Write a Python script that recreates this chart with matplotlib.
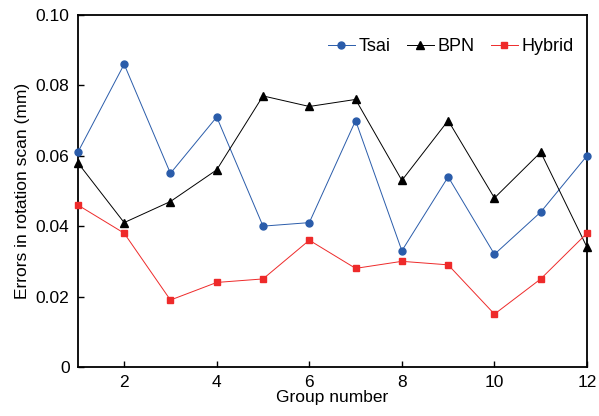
import numpy as np
import matplotlib.pyplot as plt

plt.rcParams['font.family'] = ['Liberation Sans', 'DejaVu Sans']

groups = np.arange(1, 13)
tsai = [0.061, 0.086, 0.055, 0.071, 0.040, 0.041, 0.070, 0.033, 0.054, 0.032, 0.044, 0.060]
bpn = [0.058, 0.041, 0.047, 0.056, 0.077, 0.074, 0.076, 0.053, 0.070, 0.048, 0.061, 0.034]
hybrid = [0.046, 0.038, 0.019, 0.024, 0.025, 0.036, 0.028, 0.030, 0.029, 0.015, 0.025, 0.038]

fig = plt.figure(figsize=(5.99, 4.16), dpi=100)
ax = fig.add_axes([0.130, 0.118, 0.850, 0.846])

ax.plot(groups, tsai, color="#2a5caa", lw=0.7, marker="o", ms=5, label="Tsai", clip_on=False, zorder=3)
ax.plot(groups, bpn, color="black", lw=0.7, marker="^", ms=5.5, label="BPN", clip_on=False, zorder=3)
ax.plot(groups, hybrid, color="#ee2a2a", lw=0.7, marker="s", ms=4.5, label="Hybrid", clip_on=False, zorder=3)

ax.set_xlim(1, 12)
ax.set_ylim(0, 0.10)
ax.set_xticks([2, 4, 6, 8, 10, 12])
ax.set_yticks([0, 0.02, 0.04, 0.06, 0.08, 0.10])
ax.set_yticklabels(["0", "0.02", "0.04", "0.06", "0.08", "0.10"])
ax.tick_params(direction="in", length=4, width=1, labelsize=12.5, pad=6)
for s in ax.spines.values():
    s.set_linewidth(1.3)

ax.set_xlabel("Group number", fontsize=12.5, labelpad=0)
ax.set_ylabel("Errors in rotation scan (mm)", fontsize=12.5, labelpad=4)

ax.legend(loc="upper right", ncol=3, frameon=False, fontsize=13, handlelength=1.5,
          handletextpad=0.2, columnspacing=0.9, borderaxespad=0.9,
          bbox_to_anchor=(1.02, 1.0))

fig.savefig("out.png", dpi=100)
